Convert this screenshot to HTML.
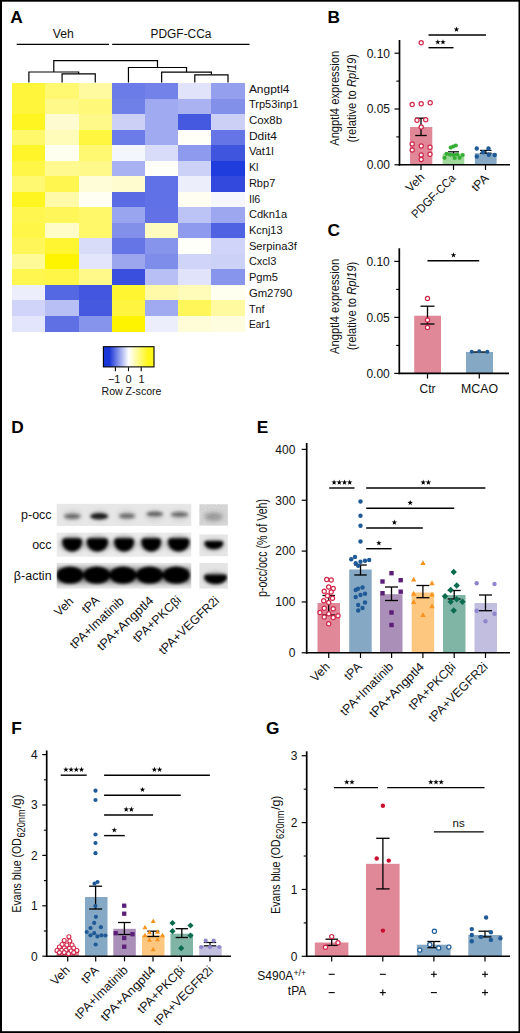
<!DOCTYPE html>
<html><head><meta charset="utf-8"><title>Figure</title>
<style>html,body{margin:0;padding:0;background:#fff}svg{display:block}text{font-family:"Liberation Sans", sans-serif}</style></head><body>
<svg width="520" height="1033" viewBox="0 0 520 1033">
<defs><filter id="b1" x="-20%" y="-50%" width="140%" height="200%"><feGaussianBlur stdDeviation="1.6"/></filter><filter id="b2" x="-20%" y="-50%" width="140%" height="200%"><feGaussianBlur stdDeviation="1.1"/></filter><filter id="b3" x="-20%" y="-50%" width="140%" height="200%"><feGaussianBlur stdDeviation="2.2"/></filter><filter id="b0" x="-5%" y="-5%" width="110%" height="110%"><feGaussianBlur stdDeviation="0.5"/></filter><linearGradient id="cb" x1="0" x2="1" y1="0" y2="0"><stop offset="0" stop-color="#1a35d8"/><stop offset="0.12" stop-color="#1a35d8"/><stop offset="0.5" stop-color="#ffffff"/><stop offset="0.88" stop-color="#fff61a"/><stop offset="1" stop-color="#fff61a"/></linearGradient></defs>
<rect x="0" y="0" width="520" height="1033" fill="#fff" />
<text x="10.2" y="23" font-size="17.3" text-anchor="start" font-weight="bold" fill="#000"  style="">A</text>
<text x="63.2" y="38" font-size="12.2" text-anchor="middle" font-weight="normal" fill="#111"  style="">Veh</text>
<text x="181" y="38" font-size="12" text-anchor="middle" font-weight="normal" fill="#111" textLength="61" lengthAdjust="spacingAndGlyphs"  style="">PDGF-CCa</text>
<line x1="16.7" y1="44.3" x2="109" y2="44.3" stroke="#000" stroke-width="1.2" stroke-linecap="butt"/>
<line x1="112.2" y1="44.3" x2="249.5" y2="44.3" stroke="#000" stroke-width="1.2" stroke-linecap="butt"/>
<g shape-rendering="crispEdges">
<rect x="12.3" y="83" width="33.49" height="15.81" fill="#fff53a" />
<rect x="45.49" y="83" width="33.49" height="15.81" fill="#fff870" />
<rect x="78.67" y="83" width="33.49" height="15.81" fill="#fffaa0" />
<rect x="111.86" y="83" width="33.49" height="15.81" fill="#6b7be8" />
<rect x="145.04" y="83" width="33.49" height="15.81" fill="#7382e8" />
<rect x="178.23" y="83" width="33.49" height="15.81" fill="#e0e3fa" />
<rect x="211.41" y="83" width="33.49" height="15.81" fill="#949fee" />
<rect x="12.3" y="98.51" width="33.49" height="15.81" fill="#fff53a" />
<rect x="45.49" y="98.51" width="33.49" height="15.81" fill="#fff98a" />
<rect x="78.67" y="98.51" width="33.49" height="15.81" fill="#fff878" />
<rect x="111.86" y="98.51" width="33.49" height="15.81" fill="#6f80e8" />
<rect x="145.04" y="98.51" width="33.49" height="15.81" fill="#a0aaf0" />
<rect x="178.23" y="98.51" width="33.49" height="15.81" fill="#aab2f2" />
<rect x="211.41" y="98.51" width="33.49" height="15.81" fill="#8390ea" />
<rect x="12.3" y="114.03" width="33.49" height="15.81" fill="#fff520" />
<rect x="45.49" y="114.03" width="33.49" height="15.81" fill="#fffbd0" />
<rect x="78.67" y="114.03" width="33.49" height="15.81" fill="#fff98a" />
<rect x="111.86" y="114.03" width="33.49" height="15.81" fill="#ccd0f7" />
<rect x="145.04" y="114.03" width="33.49" height="15.81" fill="#a0aaf0" />
<rect x="178.23" y="114.03" width="33.49" height="15.81" fill="#4458e0" />
<rect x="211.41" y="114.03" width="33.49" height="15.81" fill="#ccd0f7" />
<rect x="12.3" y="129.54" width="33.49" height="15.81" fill="#fff86a" />
<rect x="45.49" y="129.54" width="33.49" height="15.81" fill="#fffbb8" />
<rect x="78.67" y="129.54" width="33.49" height="15.81" fill="#fff640" />
<rect x="111.86" y="129.54" width="33.49" height="15.81" fill="#6b7be8" />
<rect x="145.04" y="129.54" width="33.49" height="15.81" fill="#a0aaf0" />
<rect x="178.23" y="129.54" width="33.49" height="15.81" fill="#fffff8" />
<rect x="211.41" y="129.54" width="33.49" height="15.81" fill="#6575e5" />
<rect x="12.3" y="145.05" width="33.49" height="15.81" fill="#fff528" />
<rect x="45.49" y="145.05" width="33.49" height="15.81" fill="#fffff0" />
<rect x="78.67" y="145.05" width="33.49" height="15.81" fill="#fff870" />
<rect x="111.86" y="145.05" width="33.49" height="15.81" fill="#f4f6fe" />
<rect x="145.04" y="145.05" width="33.49" height="15.81" fill="#d8dcf9" />
<rect x="178.23" y="145.05" width="33.49" height="15.81" fill="#8e9aee" />
<rect x="211.41" y="145.05" width="33.49" height="15.81" fill="#4055de" />
<rect x="12.3" y="160.56" width="33.49" height="15.81" fill="#fff648" />
<rect x="45.49" y="160.56" width="33.49" height="15.81" fill="#fff990" />
<rect x="78.67" y="160.56" width="33.49" height="15.81" fill="#fff98a" />
<rect x="111.86" y="160.56" width="33.49" height="15.81" fill="#a8b1f2" />
<rect x="145.04" y="160.56" width="33.49" height="15.81" fill="#fffffa" />
<rect x="178.23" y="160.56" width="33.49" height="15.81" fill="#ccd1f7" />
<rect x="211.41" y="160.56" width="33.49" height="15.81" fill="#1f3ddc" />
<rect x="12.3" y="176.07" width="33.49" height="15.81" fill="#fff870" />
<rect x="45.49" y="176.07" width="33.49" height="15.81" fill="#fff650" />
<rect x="78.67" y="176.07" width="33.49" height="15.81" fill="#fffcd8" />
<rect x="111.86" y="176.07" width="33.49" height="15.81" fill="#fffcd0" />
<rect x="145.04" y="176.07" width="33.49" height="15.81" fill="#6070e6" />
<rect x="178.23" y="176.07" width="33.49" height="15.81" fill="#eceefc" />
<rect x="211.41" y="176.07" width="33.49" height="15.81" fill="#3348dd" />
<rect x="12.3" y="191.59" width="33.49" height="15.81" fill="#fff520" />
<rect x="45.49" y="191.59" width="33.49" height="15.81" fill="#fffaa8" />
<rect x="78.67" y="191.59" width="33.49" height="15.81" fill="#fffff4" />
<rect x="111.86" y="191.59" width="33.49" height="15.81" fill="#5a6be4" />
<rect x="145.04" y="191.59" width="33.49" height="15.81" fill="#6070e6" />
<rect x="178.23" y="191.59" width="33.49" height="15.81" fill="#fffef0" />
<rect x="211.41" y="191.59" width="33.49" height="15.81" fill="#f6f7fe" />
<rect x="12.3" y="207.1" width="33.49" height="15.81" fill="#fff650" />
<rect x="45.49" y="207.1" width="33.49" height="15.81" fill="#fff75a" />
<rect x="78.67" y="207.1" width="33.49" height="15.81" fill="#fff868" />
<rect x="111.86" y="207.1" width="33.49" height="15.81" fill="#9aa5ef" />
<rect x="145.04" y="207.1" width="33.49" height="15.81" fill="#6272e6" />
<rect x="178.23" y="207.1" width="33.49" height="15.81" fill="#bcc3f5" />
<rect x="211.41" y="207.1" width="33.49" height="15.81" fill="#9ca7ef" />
<rect x="12.3" y="222.61" width="33.49" height="15.81" fill="#fff648" />
<rect x="45.49" y="222.61" width="33.49" height="15.81" fill="#fffcc8" />
<rect x="78.67" y="222.61" width="33.49" height="15.81" fill="#fff868" />
<rect x="111.86" y="222.61" width="33.49" height="15.81" fill="#8290ea" />
<rect x="145.04" y="222.61" width="33.49" height="15.81" fill="#fffcc0" />
<rect x="178.23" y="222.61" width="33.49" height="15.81" fill="#8e9aee" />
<rect x="211.41" y="222.61" width="33.49" height="15.81" fill="#4f62e2" />
<rect x="12.3" y="238.12" width="33.49" height="15.81" fill="#fff75a" />
<rect x="45.49" y="238.12" width="33.49" height="15.81" fill="#fff530" />
<rect x="78.67" y="238.12" width="33.49" height="15.81" fill="#d8dcf9" />
<rect x="111.86" y="238.12" width="33.49" height="15.81" fill="#6575e6" />
<rect x="145.04" y="238.12" width="33.49" height="15.81" fill="#8794eb" />
<rect x="178.23" y="238.12" width="33.49" height="15.81" fill="#fffffa" />
<rect x="211.41" y="238.12" width="33.49" height="15.81" fill="#d0d4f8" />
<rect x="12.3" y="253.64" width="33.49" height="15.81" fill="#fffa98" />
<rect x="45.49" y="253.64" width="33.49" height="15.81" fill="#fff400" />
<rect x="78.67" y="253.64" width="33.49" height="15.81" fill="#e2e5fb" />
<rect x="111.86" y="253.64" width="33.49" height="15.81" fill="#9ca6ef" />
<rect x="145.04" y="253.64" width="33.49" height="15.81" fill="#7f8dea" />
<rect x="178.23" y="253.64" width="33.49" height="15.81" fill="#d0d4f8" />
<rect x="211.41" y="253.64" width="33.49" height="15.81" fill="#ccd1f7" />
<rect x="12.3" y="269.15" width="33.49" height="15.81" fill="#fff650" />
<rect x="45.49" y="269.15" width="33.49" height="15.81" fill="#fff648" />
<rect x="78.67" y="269.15" width="33.49" height="15.81" fill="#fff98a" />
<rect x="111.86" y="269.15" width="33.49" height="15.81" fill="#3a4fde" />
<rect x="145.04" y="269.15" width="33.49" height="15.81" fill="#b8bff4" />
<rect x="178.23" y="269.15" width="33.49" height="15.81" fill="#e0e3fa" />
<rect x="211.41" y="269.15" width="33.49" height="15.81" fill="#8895ec" />
<rect x="12.3" y="284.66" width="33.49" height="15.81" fill="#eceefc" />
<rect x="45.49" y="284.66" width="33.49" height="15.81" fill="#5568e3" />
<rect x="78.67" y="284.66" width="33.49" height="15.81" fill="#4256df" />
<rect x="111.86" y="284.66" width="33.49" height="15.81" fill="#fff530" />
<rect x="145.04" y="284.66" width="33.49" height="15.81" fill="#fffaa8" />
<rect x="178.23" y="284.66" width="33.49" height="15.81" fill="#fffbb8" />
<rect x="211.41" y="284.66" width="33.49" height="15.81" fill="#fffff0" />
<rect x="12.3" y="300.17" width="33.49" height="15.81" fill="#d0d4f8" />
<rect x="45.49" y="300.17" width="33.49" height="15.81" fill="#b8bff4" />
<rect x="78.67" y="300.17" width="33.49" height="15.81" fill="#4558e0" />
<rect x="111.86" y="300.17" width="33.49" height="15.81" fill="#fff540" />
<rect x="145.04" y="300.17" width="33.49" height="15.81" fill="#a0aaf0" />
<rect x="178.23" y="300.17" width="33.49" height="15.81" fill="#fff75a" />
<rect x="211.41" y="300.17" width="33.49" height="15.81" fill="#fffaa0" />
<rect x="12.3" y="315.69" width="33.49" height="15.81" fill="#e2e5fb" />
<rect x="45.49" y="315.69" width="33.49" height="15.81" fill="#5f70e5" />
<rect x="78.67" y="315.69" width="33.49" height="15.81" fill="#8794eb" />
<rect x="111.86" y="315.69" width="33.49" height="15.81" fill="#fff400" />
<rect x="145.04" y="315.69" width="33.49" height="15.81" fill="#eceefc" />
<rect x="178.23" y="315.69" width="33.49" height="15.81" fill="#fffcd8" />
<rect x="211.41" y="315.69" width="33.49" height="15.81" fill="#fffde0" />
</g>
<text x="248.9" y="92.5" font-size="11.3" text-anchor="start" font-weight="normal" fill="#111" textLength="40.6" lengthAdjust="spacingAndGlyphs"  style="">Angptl4</text>
<text x="248.9" y="108.22" font-size="11.3" text-anchor="start" font-weight="normal" fill="#111" textLength="49.5" lengthAdjust="spacingAndGlyphs"  style="">Trp53inp1</text>
<text x="248.9" y="123.94" font-size="11.3" text-anchor="start" font-weight="normal" fill="#111" textLength="33.2" lengthAdjust="spacingAndGlyphs"  style="">Cox8b</text>
<text x="248.9" y="139.66" font-size="11.3" text-anchor="start" font-weight="normal" fill="#111" textLength="28" lengthAdjust="spacingAndGlyphs"  style="">Ddit4</text>
<text x="248.9" y="155.38" font-size="11.3" text-anchor="start" font-weight="normal" fill="#111" textLength="24.9" lengthAdjust="spacingAndGlyphs"  style="">Vat1l</text>
<text x="248.9" y="171.1" font-size="11.3" text-anchor="start" font-weight="normal" fill="#111" textLength="9.5" lengthAdjust="spacingAndGlyphs"  style="">Kl</text>
<text x="248.9" y="186.82" font-size="11.3" text-anchor="start" font-weight="normal" fill="#111" textLength="26.4" lengthAdjust="spacingAndGlyphs"  style="">Rbp7</text>
<text x="248.9" y="202.54" font-size="11.3" text-anchor="start" font-weight="normal" fill="#111" textLength="11.4" lengthAdjust="spacingAndGlyphs"  style="">Il6</text>
<text x="248.9" y="218.26" font-size="11.3" text-anchor="start" font-weight="normal" fill="#111" textLength="38.3" lengthAdjust="spacingAndGlyphs"  style="">Cdkn1a</text>
<text x="248.9" y="233.98" font-size="11.3" text-anchor="start" font-weight="normal" fill="#111" textLength="33.7" lengthAdjust="spacingAndGlyphs"  style="">Kcnj13</text>
<text x="248.9" y="249.7" font-size="11.3" text-anchor="start" font-weight="normal" fill="#111" textLength="48" lengthAdjust="spacingAndGlyphs"  style="">Serpina3f</text>
<text x="248.9" y="265.42" font-size="11.3" text-anchor="start" font-weight="normal" fill="#111" textLength="27.5" lengthAdjust="spacingAndGlyphs"  style="">Cxcl3</text>
<text x="248.9" y="281.14" font-size="11.3" text-anchor="start" font-weight="normal" fill="#111" textLength="29.1" lengthAdjust="spacingAndGlyphs"  style="">Pgm5</text>
<text x="248.9" y="296.86" font-size="11.3" text-anchor="start" font-weight="normal" fill="#111" textLength="43.4" lengthAdjust="spacingAndGlyphs"  style="">Gm2790</text>
<text x="248.9" y="312.58" font-size="11.3" text-anchor="start" font-weight="normal" fill="#111" textLength="15.7" lengthAdjust="spacingAndGlyphs"  style="">Tnf</text>
<text x="248.9" y="328.3" font-size="11.3" text-anchor="start" font-weight="normal" fill="#111" textLength="21.4" lengthAdjust="spacingAndGlyphs"  style="">Ear1</text>
<polyline points="62.08,82.6 62.08,73.8 95.26,73.8 95.26,82.6" fill="none" stroke="#000" stroke-width="1.2" stroke-linejoin="miter"/>
<polyline points="28.89,82.6 28.89,72 78.67,72 78.67,73.8" fill="none" stroke="#000" stroke-width="1.2" stroke-linejoin="miter"/>
<polyline points="194.82,82.6 194.82,74.8 228.01,74.8 228.01,82.6" fill="none" stroke="#000" stroke-width="1.2" stroke-linejoin="miter"/>
<polyline points="161.64,82.6 161.64,72.1 211.41,72.1 211.41,74.8" fill="none" stroke="#000" stroke-width="1.2" stroke-linejoin="miter"/>
<polyline points="128.45,82.6 128.45,67.5 186.53,67.5 186.53,72.1" fill="none" stroke="#000" stroke-width="1.2" stroke-linejoin="miter"/>
<polyline points="53.78,72 53.78,60.6 157.49,60.6 157.49,67.5" fill="none" stroke="#000" stroke-width="1.2" stroke-linejoin="miter"/>
<rect x="103.4" y="346.7" width="50.6" height="20.2" fill="url(#cb)" stroke="#000" stroke-width="1.1"/>
<line x1="115.4" y1="367.3" x2="115.4" y2="371.2" stroke="#000" stroke-width="1.1" stroke-linecap="butt"/>
<line x1="128.5" y1="367.3" x2="128.5" y2="371.2" stroke="#000" stroke-width="1.1" stroke-linecap="butt"/>
<line x1="141.2" y1="367.3" x2="141.2" y2="371.2" stroke="#000" stroke-width="1.1" stroke-linecap="butt"/>
<text x="114.2" y="382.8" font-size="11" text-anchor="middle" font-weight="normal" fill="#111"  style="">−1</text>
<text x="128.5" y="382.8" font-size="11" text-anchor="middle" font-weight="normal" fill="#111"  style="">0</text>
<text x="141.5" y="382.8" font-size="11" text-anchor="middle" font-weight="normal" fill="#111"  style="">1</text>
<text x="131.5" y="394.8" font-size="11" text-anchor="middle" font-weight="normal" fill="#111" textLength="60" lengthAdjust="spacingAndGlyphs"  style="">Row Z-score</text>
<text x="327.5" y="22.6" font-size="17.3" text-anchor="start" font-weight="bold" fill="#000"  style="">B</text>
<rect x="410" y="127" width="22.3" height="37.8" fill="#e08898" />
<rect x="442.7" y="153.8" width="21.6" height="11" fill="#a0d79b" />
<rect x="474.9" y="153.2" width="21.7" height="11.6" fill="#85a8c4" />
<line x1="399.5" y1="40" x2="399.5" y2="165.65" stroke="#000" stroke-width="1.7" stroke-linecap="butt"/>
<line x1="394.5" y1="164.8" x2="399.5" y2="164.8" stroke="#000" stroke-width="1.2" stroke-linecap="butt"/>
<line x1="394.5" y1="109" x2="399.5" y2="109" stroke="#000" stroke-width="1.2" stroke-linecap="butt"/>
<line x1="394.5" y1="53.2" x2="399.5" y2="53.2" stroke="#000" stroke-width="1.2" stroke-linecap="butt"/>
<line x1="396.3" y1="136.9" x2="399.5" y2="136.9" stroke="#000" stroke-width="1.1" stroke-linecap="butt"/>
<line x1="396.3" y1="81.1" x2="399.5" y2="81.1" stroke="#000" stroke-width="1.1" stroke-linecap="butt"/>
<text x="390" y="169.1" font-size="12" text-anchor="end" font-weight="normal" fill="#111"  style="">0.00</text>
<text x="390" y="113.3" font-size="12" text-anchor="end" font-weight="normal" fill="#111"  style="">0.05</text>
<text x="390" y="57.5" font-size="12" text-anchor="end" font-weight="normal" fill="#111"  style="">0.10</text>
<line x1="398.75" y1="164.8" x2="510" y2="164.8" stroke="#000" stroke-width="1.6" stroke-linecap="butt"/>
<line x1="421" y1="164.8" x2="421" y2="170" stroke="#000" stroke-width="1.2" stroke-linecap="butt"/>
<line x1="453.5" y1="164.8" x2="453.5" y2="170" stroke="#000" stroke-width="1.2" stroke-linecap="butt"/>
<line x1="485.5" y1="164.8" x2="485.5" y2="170" stroke="#000" stroke-width="1.2" stroke-linecap="butt"/>
<line x1="421" y1="118.2" x2="421" y2="135.5" stroke="#000" stroke-width="1.3" stroke-linecap="butt"/>
<line x1="415.25" y1="118.2" x2="426.75" y2="118.2" stroke="#000" stroke-width="1.3" stroke-linecap="butt"/>
<line x1="415.25" y1="135.5" x2="426.75" y2="135.5" stroke="#000" stroke-width="1.3" stroke-linecap="butt"/>
<line x1="453.5" y1="151.8" x2="453.5" y2="154.2" stroke="#000" stroke-width="1.2" stroke-linecap="butt"/>
<line x1="448" y1="151.8" x2="459" y2="151.8" stroke="#000" stroke-width="1.2" stroke-linecap="butt"/>
<line x1="448" y1="154.2" x2="459" y2="154.2" stroke="#000" stroke-width="1.2" stroke-linecap="butt"/>
<line x1="485.8" y1="150.4" x2="485.8" y2="153.2" stroke="#000" stroke-width="1.2" stroke-linecap="butt"/>
<line x1="480.05" y1="150.4" x2="491.55" y2="150.4" stroke="#000" stroke-width="1.2" stroke-linecap="butt"/>
<line x1="480.05" y1="153.2" x2="491.55" y2="153.2" stroke="#000" stroke-width="1.2" stroke-linecap="butt"/>
<circle cx="421.2" cy="42.7" r="2.1" fill="#fff" stroke="#d0284a" stroke-width="1.2"/>
<circle cx="412.2" cy="104.5" r="2.1" fill="#fff" stroke="#d0284a" stroke-width="1.2"/>
<circle cx="421.2" cy="103.7" r="2.1" fill="#fff" stroke="#d0284a" stroke-width="1.2"/>
<circle cx="430.2" cy="102.7" r="2.1" fill="#fff" stroke="#d0284a" stroke-width="1.2"/>
<circle cx="417" cy="120.2" r="2.1" fill="#fff" stroke="#d0284a" stroke-width="1.2"/>
<circle cx="425.7" cy="119.7" r="2.1" fill="#fff" stroke="#d0284a" stroke-width="1.2"/>
<circle cx="421.2" cy="127" r="2.1" fill="#fff" stroke="#d0284a" stroke-width="1.2"/>
<circle cx="412.2" cy="144" r="2.1" fill="#fff" stroke="#d0284a" stroke-width="1.2"/>
<circle cx="421.2" cy="146" r="2.1" fill="#fff" stroke="#d0284a" stroke-width="1.2"/>
<circle cx="430" cy="147.2" r="2.1" fill="#fff" stroke="#d0284a" stroke-width="1.2"/>
<circle cx="412.2" cy="150" r="2.1" fill="#fff" stroke="#d0284a" stroke-width="1.2"/>
<circle cx="421.2" cy="155" r="2.1" fill="#fff" stroke="#d0284a" stroke-width="1.2"/>
<circle cx="430" cy="154.2" r="2.1" fill="#fff" stroke="#d0284a" stroke-width="1.2"/>
<circle cx="421.2" cy="159.5" r="2.1" fill="#fff" stroke="#d0284a" stroke-width="1.2"/>
<circle cx="455.8" cy="145.5" r="2.1" fill="#34af34"/>
<circle cx="453.2" cy="146.5" r="2.1" fill="#34af34"/>
<circle cx="450.7" cy="147.6" r="2.1" fill="#34af34"/>
<circle cx="446.5" cy="153.8" r="2.1" fill="#34af34"/>
<circle cx="450" cy="154.7" r="2.1" fill="#34af34"/>
<circle cx="444.5" cy="157.8" r="2.1" fill="#34af34"/>
<circle cx="454.7" cy="158" r="2.1" fill="#34af34"/>
<circle cx="459.6" cy="157.8" r="2.1" fill="#34af34"/>
<circle cx="462.7" cy="155" r="2.1" fill="#34af34"/>
<circle cx="457.3" cy="154.5" r="2.1" fill="#34af34"/>
<circle cx="453.5" cy="155" r="2.1" fill="#34af34"/>
<circle cx="476.8" cy="148.5" r="2.2" fill="#1f5a96"/>
<circle cx="488.5" cy="148.5" r="2.2" fill="#1f5a96"/>
<circle cx="483" cy="152.2" r="2.2" fill="#1f5a96"/>
<circle cx="488.8" cy="154.7" r="2.2" fill="#1f5a96"/>
<circle cx="494.7" cy="155" r="2.2" fill="#1f5a96"/>
<circle cx="476.8" cy="156.5" r="2.2" fill="#1f5a96"/>
<line x1="428.5" y1="35" x2="486" y2="35" stroke="#000" stroke-width="1.4" stroke-linecap="butt"/>
<line x1="428.5" y1="47.7" x2="453.5" y2="47.7" stroke="#000" stroke-width="1.4" stroke-linecap="butt"/>
<polygon points="456.5,26.6 457.18,28.57 459.26,28.6 457.59,29.86 458.2,31.85 456.5,30.65 454.8,31.85 455.41,29.86 453.74,28.6 455.82,28.57" fill="#000"/>
<polygon points="437.8,39.3 438.48,41.27 440.56,41.3 438.89,42.56 439.5,44.55 437.8,43.35 436.1,44.55 436.71,42.56 435.04,41.3 437.12,41.27" fill="#000"/>
<polygon points="443,39.3 443.68,41.27 445.76,41.3 444.09,42.56 444.7,44.55 443,43.35 441.3,44.55 441.91,42.56 440.24,41.3 442.32,41.27" fill="#000"/>
<text x="0" y="0" transform="translate(339,98.3) rotate(-90)" font-size="13.3" text-anchor="middle" font-weight="normal" fill="#111" textLength="95" lengthAdjust="spacingAndGlyphs"  style="">Angptl4 expression</text>
<text x="0" y="0" transform="translate(356.2,98.3) rotate(-90)" font-size="13.3" text-anchor="middle" font-weight="normal" fill="#111" textLength="88.5" lengthAdjust="spacingAndGlyphs"  style="">(relative to <tspan font-style="italic">Rpl19</tspan>)</text>
<text x="0" y="0" transform="translate(425.2,178) rotate(-45)" font-size="12" text-anchor="end" font-weight="normal" fill="#111"  style="">Veh</text>
<text x="0" y="0" transform="translate(456.3,179) rotate(-45)" font-size="12" text-anchor="end" font-weight="normal" fill="#111" textLength="56.5" lengthAdjust="spacingAndGlyphs"  style="">PDGF-CCa</text>
<text x="0" y="0" transform="translate(489.3,179) rotate(-45)" font-size="12" text-anchor="end" font-weight="normal" fill="#111"  style="">tPA</text>
<text x="327.5" y="236.4" font-size="17.3" text-anchor="start" font-weight="bold" fill="#000"  style="">C</text>
<rect x="414.2" y="315.7" width="26.8" height="57.7" fill="#e08898" />
<rect x="466" y="352" width="27" height="21.4" fill="#85a8c4" />
<line x1="399.3" y1="248.3" x2="399.3" y2="374.25" stroke="#000" stroke-width="1.7" stroke-linecap="butt"/>
<line x1="394.3" y1="373.4" x2="399.3" y2="373.4" stroke="#000" stroke-width="1.2" stroke-linecap="butt"/>
<line x1="394.3" y1="317.4" x2="399.3" y2="317.4" stroke="#000" stroke-width="1.2" stroke-linecap="butt"/>
<line x1="394.3" y1="261.4" x2="399.3" y2="261.4" stroke="#000" stroke-width="1.2" stroke-linecap="butt"/>
<line x1="396.1" y1="345.4" x2="399.3" y2="345.4" stroke="#000" stroke-width="1.1" stroke-linecap="butt"/>
<line x1="396.1" y1="289.4" x2="399.3" y2="289.4" stroke="#000" stroke-width="1.1" stroke-linecap="butt"/>
<text x="389.8" y="377.7" font-size="12" text-anchor="end" font-weight="normal" fill="#111"  style="">0.00</text>
<text x="389.8" y="321.7" font-size="12" text-anchor="end" font-weight="normal" fill="#111"  style="">0.05</text>
<text x="389.8" y="265.7" font-size="12" text-anchor="end" font-weight="normal" fill="#111"  style="">0.10</text>
<line x1="398.55" y1="373.4" x2="509" y2="373.4" stroke="#000" stroke-width="1.6" stroke-linecap="butt"/>
<line x1="427.5" y1="373.4" x2="427.5" y2="378.6" stroke="#000" stroke-width="1.2" stroke-linecap="butt"/>
<line x1="479.3" y1="373.4" x2="479.3" y2="378.6" stroke="#000" stroke-width="1.2" stroke-linecap="butt"/>
<line x1="427.5" y1="306.2" x2="427.5" y2="324" stroke="#000" stroke-width="1.3" stroke-linecap="butt"/>
<line x1="420.5" y1="306.2" x2="434.5" y2="306.2" stroke="#000" stroke-width="1.3" stroke-linecap="butt"/>
<line x1="420.5" y1="324" x2="434.5" y2="324" stroke="#000" stroke-width="1.3" stroke-linecap="butt"/>
<line x1="472" y1="352" x2="487.3" y2="352" stroke="#000" stroke-width="1.3" stroke-linecap="butt"/>
<circle cx="427.5" cy="298.5" r="2.1" fill="#fff" stroke="#d0284a" stroke-width="1.2"/>
<circle cx="427.5" cy="320" r="2.1" fill="#fff" stroke="#d0284a" stroke-width="1.2"/>
<circle cx="427.5" cy="327.5" r="2.1" fill="#fff" stroke="#d0284a" stroke-width="1.2"/>
<circle cx="471.7" cy="351.7" r="2" fill="#1f5a96"/>
<circle cx="479.2" cy="351.2" r="2" fill="#1f5a96"/>
<circle cx="487.4" cy="351.7" r="2" fill="#1f5a96"/>
<line x1="427.5" y1="260.7" x2="479.2" y2="260.7" stroke="#000" stroke-width="1.4" stroke-linecap="butt"/>
<polygon points="453.5,252.3 454.18,254.27 456.26,254.3 454.59,255.56 455.2,257.55 453.5,256.35 451.8,257.55 452.41,255.56 450.74,254.3 452.82,254.27" fill="#000"/>
<text x="0" y="0" transform="translate(339,306.4) rotate(-90)" font-size="13.3" text-anchor="middle" font-weight="normal" fill="#111" textLength="95" lengthAdjust="spacingAndGlyphs"  style="">Angptl4 expression</text>
<text x="0" y="0" transform="translate(356.2,306) rotate(-90)" font-size="13.3" text-anchor="middle" font-weight="normal" fill="#111" textLength="88.5" lengthAdjust="spacingAndGlyphs"  style="">(relative to <tspan font-style="italic">Rpl19</tspan>)</text>
<text x="427.5" y="393" font-size="12" text-anchor="middle" font-weight="normal" fill="#111"  style="">Ctr</text>
<text x="479.6" y="393" font-size="12" text-anchor="middle" font-weight="normal" fill="#111" textLength="37" lengthAdjust="spacingAndGlyphs"  style="">MCAO</text>
<text x="11.3" y="433.3" font-size="17.3" text-anchor="start" font-weight="bold" fill="#000"  style="">D</text>
<text x="51.6" y="519" font-size="12.5" text-anchor="end" font-weight="normal" fill="#111"  style="">p-occ</text>
<text x="51.6" y="548.6" font-size="12.5" text-anchor="end" font-weight="normal" fill="#111"  style="">occ</text>
<text x="51.6" y="580" font-size="12.5" text-anchor="end" font-weight="normal" fill="#111"  style="">β-actin</text>
<filter id="nz" x="0" y="0" width="100%" height="100%"><feTurbulence type="fractalNoise" baseFrequency="0.55" numOctaves="2" seed="7" result="n"/><feColorMatrix in="n" type="matrix" values="0 0 0 0 0.5  0 0 0 0 0.5  0 0 0 0 0.5  0.9 0.9 0.9 0 -0.95"/></filter>
<g filter="url(#b0)">
<rect x="56.7" y="503.8" width="134.6" height="22.2" fill="#e7e7e7" />
<rect x="199.4" y="504.3" width="28.4" height="21.3" fill="#dcdcdc" />
<rect x="56.7" y="532.6" width="134.6" height="24.2" fill="#ebebeb" />
<rect x="199.4" y="534.4" width="28.4" height="21.8" fill="#e6e6e6" />
<rect x="56.7" y="562.8" width="134.6" height="25.8" fill="#e6e6e6" />
<rect x="199.4" y="563" width="28.4" height="25.6" fill="#e4e4e4" />
</g>
<clipPath id="cl1"><rect x="56.7" y="503.8" width="134.6" height="22.2"/></clipPath>
<clipPath id="cl2"><rect x="199.4" y="504.3" width="28.4" height="21.3"/></clipPath>
<clipPath id="cl3"><rect x="56.7" y="532.6" width="134.6" height="24.2"/></clipPath>
<clipPath id="cl4"><rect x="199.4" y="534.4" width="28.4" height="21.8"/></clipPath>
<clipPath id="cl5"><rect x="56.7" y="562.8" width="134.6" height="25.8"/></clipPath>
<clipPath id="cl6"><rect x="199.4" y="563" width="28.4" height="25.6"/></clipPath>
<g clip-path="url(#cl1)">
<g filter="url(#b3)">
<ellipse cx="72.5" cy="515.5" rx="10" ry="6" fill="#888" opacity="0.22"/>
<ellipse cx="99.3" cy="515.5" rx="10" ry="6" fill="#888" opacity="0.22"/>
<ellipse cx="127" cy="515.5" rx="10" ry="6" fill="#888" opacity="0.22"/>
<ellipse cx="154.5" cy="515.5" rx="10" ry="6" fill="#888" opacity="0.22"/>
<ellipse cx="179.5" cy="515.5" rx="10" ry="6" fill="#888" opacity="0.22"/>
</g><g filter="url(#b1)">
<ellipse cx="72.3" cy="516.3" rx="8.2" ry="2.6" fill="#1a1a1a" opacity="0.55"/>
<ellipse cx="99.2" cy="516.3" rx="9" ry="3.2" fill="#1a1a1a" opacity="1"/>
<ellipse cx="127" cy="516" rx="8" ry="2.6" fill="#1a1a1a" opacity="0.55"/>
<ellipse cx="154.8" cy="514" rx="8.2" ry="2.6" fill="#1a1a1a" opacity="0.62"/>
<ellipse cx="179.6" cy="514.6" rx="8.6" ry="2.5" fill="#1a1a1a" opacity="0.55"/>
</g></g>
<g clip-path="url(#cl2)"><g filter="url(#b3)">
<ellipse cx="213.6" cy="516.8" rx="9.5" ry="4.2" fill="#444" opacity="0.5"/>
</g>
<rect x="199.4" y="504.3" width="28.4" height="21.3" filter="url(#nz)" opacity="0.55"/>
</g>
<g clip-path="url(#cl3)"><g filter="url(#b3)">
<ellipse cx="72.15" cy="544" rx="12.35" ry="8.5" fill="#666" opacity="0.45"/>
<ellipse cx="97.4" cy="544" rx="13.1" ry="8.5" fill="#666" opacity="0.45"/>
<ellipse cx="124.1" cy="544" rx="12.4" ry="8.5" fill="#666" opacity="0.45"/>
<ellipse cx="151.2" cy="544" rx="12.3" ry="8.5" fill="#666" opacity="0.45"/>
<ellipse cx="178.7" cy="544" rx="13.2" ry="8.5" fill="#666" opacity="0.45"/>
</g><g filter="url(#b1)">
<path d="M62.3,541.5 C62.3,538.86 63.48,538.2 65.85,538.2 L78.45,538.2 C80.82,538.2 82,538.86 82,541.5 C82,547.44 77.67,551.4 72.15,551.4 C66.63,551.4 62.3,547.44 62.3,541.5 Z" fill="#000" opacity="1"/>
<path d="M86.8,541.5 C86.8,538.86 88.07,538.2 90.62,538.2 L104.18,538.2 C106.73,538.2 108,538.86 108,541.5 C108,547.44 103.34,551.4 97.4,551.4 C91.46,551.4 86.8,547.44 86.8,541.5 Z" fill="#000" opacity="1"/>
<path d="M114.2,541.5 C114.2,538.86 115.39,538.2 117.76,538.2 L130.44,538.2 C132.81,538.2 134,538.86 134,541.5 C134,547.44 129.64,551.4 124.1,551.4 C118.56,551.4 114.2,547.44 114.2,541.5 Z" fill="#000" opacity="1"/>
<path d="M141.4,541.5 C141.4,538.86 142.58,538.2 144.93,538.2 L157.47,538.2 C159.82,538.2 161,538.86 161,541.5 C161,547.44 156.69,551.4 151.2,551.4 C145.71,551.4 141.4,547.44 141.4,541.5 Z" fill="#000" opacity="1"/>
<path d="M168,541.5 C168,538.86 169.28,538.2 171.85,538.2 L185.55,538.2 C188.12,538.2 189.4,538.86 189.4,541.5 C189.4,547.44 184.69,551.4 178.7,551.4 C172.71,551.4 168,547.44 168,541.5 Z" fill="#000" opacity="1"/>
</g></g>
<g clip-path="url(#cl4)"><g filter="url(#b3)">
<ellipse cx="213.8" cy="545" rx="11" ry="6" fill="#666" opacity="0.4"/>
</g><g filter="url(#b1)">
<path d="M204.5,543.05 C204.5,541.41 205.62,541 207.87,541 L219.83,541 C222.08,541 223.2,541.41 223.2,543.05 C223.2,546.74 219.09,549.2 213.85,549.2 C208.61,549.2 204.5,546.74 204.5,543.05 Z" fill="#000" opacity="1"/>
</g></g>
<g clip-path="url(#cl5)"><g filter="url(#b3)">
<rect x="56" y="567" width="135" height="17" fill="#555" opacity="0.55"/>
</g><g filter="url(#b1)">
<ellipse cx="70" cy="575.2" rx="13.6" ry="8.6" fill="#000" opacity="1"/>
<ellipse cx="96.8" cy="575.2" rx="13.6" ry="8.6" fill="#000" opacity="1"/>
<ellipse cx="123" cy="575.2" rx="13.6" ry="8.6" fill="#000" opacity="1"/>
<ellipse cx="149.6" cy="575.2" rx="13.6" ry="8.6" fill="#000" opacity="1"/>
<ellipse cx="176.3" cy="575.2" rx="13.6" ry="8.6" fill="#000" opacity="1"/>
</g></g>
<g clip-path="url(#cl6)"><g filter="url(#b3)">
<ellipse cx="215.5" cy="578" rx="12" ry="6.5" fill="#666" opacity="0.45"/>
</g><g filter="url(#b1)">
<path d="M204.2,576.95 C204.2,575.07 205.57,574.6 208.3,574.6 L222.9,574.6 C225.63,574.6 227,575.07 227,576.95 C227,581.18 221.98,584 215.6,584 C209.22,584 204.2,581.18 204.2,576.95 Z" fill="#000" opacity="1"/>
</g></g>
<text x="0" y="0" transform="translate(74.3,602.4) rotate(-43.5)" font-size="12.3" text-anchor="end" font-weight="normal" fill="#111"  style="">Veh</text>
<text x="0" y="0" transform="translate(100.2,601) rotate(-43.5)" font-size="12.3" text-anchor="end" font-weight="normal" fill="#111"  style="">tPA</text>
<text x="0" y="0" transform="translate(124.6,602) rotate(-43.5)" font-size="12.3" text-anchor="end" font-weight="normal" fill="#111"  style="">tPA+Imatinib</text>
<text x="0" y="0" transform="translate(154.2,601.5) rotate(-43.5)" font-size="12.3" text-anchor="end" font-weight="normal" fill="#111" textLength="72.3" lengthAdjust="spacingAndGlyphs"  style="">tPA+Angptl4</text>
<text x="0" y="0" transform="translate(182,601) rotate(-43.5)" font-size="12.3" text-anchor="end" font-weight="normal" fill="#111"  style="">tPA+PKCβi</text>
<text x="0" y="0" transform="translate(220,601.5) rotate(-43.5)" font-size="12.3" text-anchor="end" font-weight="normal" fill="#111" textLength="78" lengthAdjust="spacingAndGlyphs"  style="">tPA+VEGFR2i</text>
<text x="256.8" y="433.3" font-size="17.3" text-anchor="start" font-weight="bold" fill="#000"  style="">E</text>
<rect x="317.5" y="603" width="22.5" height="49.8" fill="#e08898" />
<rect x="349.2" y="569.5" width="22.5" height="83.3" fill="#85a8c4" />
<rect x="380" y="594.2" width="22.5" height="58.6" fill="#aa8fb8" />
<rect x="411.7" y="592.5" width="22.5" height="60.3" fill="#fdc780" />
<rect x="443" y="595" width="22.5" height="57.8" fill="#80b4a5" />
<rect x="474.5" y="603" width="22.5" height="49.8" fill="#c2bee0" />
<line x1="306.7" y1="443" x2="306.7" y2="653.65" stroke="#000" stroke-width="1.7" stroke-linecap="butt"/>
<line x1="301.7" y1="652.8" x2="306.7" y2="652.8" stroke="#000" stroke-width="1.2" stroke-linecap="butt"/>
<line x1="301.7" y1="601.95" x2="306.7" y2="601.95" stroke="#000" stroke-width="1.2" stroke-linecap="butt"/>
<line x1="301.7" y1="551.1" x2="306.7" y2="551.1" stroke="#000" stroke-width="1.2" stroke-linecap="butt"/>
<line x1="301.7" y1="500.25" x2="306.7" y2="500.25" stroke="#000" stroke-width="1.2" stroke-linecap="butt"/>
<line x1="301.7" y1="449.4" x2="306.7" y2="449.4" stroke="#000" stroke-width="1.2" stroke-linecap="butt"/>
<text x="295.4" y="657.1" font-size="12" text-anchor="end" font-weight="normal" fill="#111"  style="">0</text>
<text x="295.4" y="606.25" font-size="12" text-anchor="end" font-weight="normal" fill="#111"  style="">100</text>
<text x="295.4" y="555.4" font-size="12" text-anchor="end" font-weight="normal" fill="#111"  style="">200</text>
<text x="295.4" y="504.55" font-size="12" text-anchor="end" font-weight="normal" fill="#111"  style="">300</text>
<text x="295.4" y="453.7" font-size="12" text-anchor="end" font-weight="normal" fill="#111"  style="">400</text>
<line x1="305.95" y1="652.8" x2="510" y2="652.8" stroke="#000" stroke-width="1.6" stroke-linecap="butt"/>
<line x1="328.7" y1="652.8" x2="328.7" y2="658" stroke="#000" stroke-width="1.2" stroke-linecap="butt"/>
<line x1="360.5" y1="652.8" x2="360.5" y2="658" stroke="#000" stroke-width="1.2" stroke-linecap="butt"/>
<line x1="391.6" y1="652.8" x2="391.6" y2="658" stroke="#000" stroke-width="1.2" stroke-linecap="butt"/>
<line x1="422.9" y1="652.8" x2="422.9" y2="658" stroke="#000" stroke-width="1.2" stroke-linecap="butt"/>
<line x1="454.2" y1="652.8" x2="454.2" y2="658" stroke="#000" stroke-width="1.2" stroke-linecap="butt"/>
<line x1="485.5" y1="652.8" x2="485.5" y2="658" stroke="#000" stroke-width="1.2" stroke-linecap="butt"/>
<line x1="328.7" y1="595.5" x2="328.7" y2="615" stroke="#000" stroke-width="1.3" stroke-linecap="butt"/>
<line x1="322.45" y1="595.5" x2="334.95" y2="595.5" stroke="#000" stroke-width="1.3" stroke-linecap="butt"/>
<line x1="322.45" y1="615" x2="334.95" y2="615" stroke="#000" stroke-width="1.3" stroke-linecap="butt"/>
<line x1="360.5" y1="565" x2="360.5" y2="575" stroke="#000" stroke-width="1.3" stroke-linecap="butt"/>
<line x1="354.25" y1="565" x2="366.75" y2="565" stroke="#000" stroke-width="1.3" stroke-linecap="butt"/>
<line x1="354.25" y1="575" x2="366.75" y2="575" stroke="#000" stroke-width="1.3" stroke-linecap="butt"/>
<line x1="391.5" y1="587" x2="391.5" y2="600.5" stroke="#000" stroke-width="1.3" stroke-linecap="butt"/>
<line x1="385" y1="587" x2="398" y2="587" stroke="#000" stroke-width="1.3" stroke-linecap="butt"/>
<line x1="385" y1="600.5" x2="398" y2="600.5" stroke="#000" stroke-width="1.3" stroke-linecap="butt"/>
<line x1="422.9" y1="585.5" x2="422.9" y2="597.7" stroke="#000" stroke-width="1.3" stroke-linecap="butt"/>
<line x1="416.4" y1="585.5" x2="429.4" y2="585.5" stroke="#000" stroke-width="1.3" stroke-linecap="butt"/>
<line x1="416.4" y1="597.7" x2="429.4" y2="597.7" stroke="#000" stroke-width="1.3" stroke-linecap="butt"/>
<line x1="454.2" y1="590.5" x2="454.2" y2="599" stroke="#000" stroke-width="1.3" stroke-linecap="butt"/>
<line x1="447.7" y1="590.5" x2="460.7" y2="590.5" stroke="#000" stroke-width="1.3" stroke-linecap="butt"/>
<line x1="447.7" y1="599" x2="460.7" y2="599" stroke="#000" stroke-width="1.3" stroke-linecap="butt"/>
<line x1="485.5" y1="595" x2="485.5" y2="610.7" stroke="#000" stroke-width="1.3" stroke-linecap="butt"/>
<line x1="479" y1="595" x2="492" y2="595" stroke="#000" stroke-width="1.3" stroke-linecap="butt"/>
<line x1="479" y1="610.7" x2="492" y2="610.7" stroke="#000" stroke-width="1.3" stroke-linecap="butt"/>
<circle cx="326.7" cy="579.5" r="2.1" fill="#fff" stroke="#d0284a" stroke-width="1.2"/>
<circle cx="331.2" cy="580" r="2.1" fill="#fff" stroke="#d0284a" stroke-width="1.2"/>
<circle cx="328.7" cy="587" r="2.1" fill="#fff" stroke="#d0284a" stroke-width="1.2"/>
<circle cx="333.2" cy="588.5" r="2.1" fill="#fff" stroke="#d0284a" stroke-width="1.2"/>
<circle cx="324.2" cy="591.2" r="2.1" fill="#fff" stroke="#d0284a" stroke-width="1.2"/>
<circle cx="331.2" cy="592" r="2.1" fill="#fff" stroke="#d0284a" stroke-width="1.2"/>
<circle cx="327.5" cy="595.7" r="2.1" fill="#fff" stroke="#d0284a" stroke-width="1.2"/>
<circle cx="323.7" cy="600.7" r="2.1" fill="#fff" stroke="#d0284a" stroke-width="1.2"/>
<circle cx="332.5" cy="598.2" r="2.1" fill="#fff" stroke="#d0284a" stroke-width="1.2"/>
<circle cx="328.7" cy="602.5" r="2.1" fill="#fff" stroke="#d0284a" stroke-width="1.2"/>
<circle cx="324.2" cy="608.2" r="2.1" fill="#fff" stroke="#d0284a" stroke-width="1.2"/>
<circle cx="333.2" cy="608.7" r="2.1" fill="#fff" stroke="#d0284a" stroke-width="1.2"/>
<circle cx="320" cy="612.5" r="2.1" fill="#fff" stroke="#d0284a" stroke-width="1.2"/>
<circle cx="328.7" cy="613.7" r="2.1" fill="#fff" stroke="#d0284a" stroke-width="1.2"/>
<circle cx="338" cy="615.7" r="2.1" fill="#fff" stroke="#d0284a" stroke-width="1.2"/>
<circle cx="324.2" cy="617" r="2.1" fill="#fff" stroke="#d0284a" stroke-width="1.2"/>
<circle cx="333.2" cy="617.5" r="2.1" fill="#fff" stroke="#d0284a" stroke-width="1.2"/>
<circle cx="328.7" cy="623.7" r="2.1" fill="#fff" stroke="#d0284a" stroke-width="1.2"/>
<circle cx="360.5" cy="501.5" r="2.2" fill="#1f5a96"/>
<circle cx="360.5" cy="515.7" r="2.2" fill="#1f5a96"/>
<circle cx="360.5" cy="525.7" r="2.2" fill="#1f5a96"/>
<circle cx="360.5" cy="541.5" r="2.2" fill="#1f5a96"/>
<circle cx="351.2" cy="559.2" r="2.2" fill="#1f5a96"/>
<circle cx="355" cy="557" r="2.2" fill="#1f5a96"/>
<circle cx="369.2" cy="560" r="2.2" fill="#1f5a96"/>
<circle cx="365" cy="560.7" r="2.2" fill="#1f5a96"/>
<circle cx="360.5" cy="561.7" r="2.2" fill="#1f5a96"/>
<circle cx="355.7" cy="563.2" r="2.2" fill="#1f5a96"/>
<circle cx="358.2" cy="565.7" r="2.2" fill="#1f5a96"/>
<circle cx="362.5" cy="587.5" r="2.2" fill="#1f5a96"/>
<circle cx="358" cy="588.7" r="2.2" fill="#1f5a96"/>
<circle cx="355.7" cy="590" r="2.2" fill="#1f5a96"/>
<circle cx="365" cy="593.7" r="2.2" fill="#1f5a96"/>
<circle cx="360.5" cy="595" r="2.2" fill="#1f5a96"/>
<circle cx="355.7" cy="597" r="2.2" fill="#1f5a96"/>
<circle cx="365" cy="602.5" r="2.2" fill="#1f5a96"/>
<circle cx="358.2" cy="605" r="2.2" fill="#1f5a96"/>
<circle cx="362.5" cy="608" r="2.2" fill="#1f5a96"/>
<circle cx="358.2" cy="610.5" r="2.2" fill="#1f5a96"/>
<rect x="389.3" y="571" width="4.4" height="4.4" fill="#5c1f78" />
<rect x="380.3" y="579.3" width="4.4" height="4.4" fill="#5c1f78" />
<rect x="398.5" y="578" width="4.4" height="4.4" fill="#5c1f78" />
<rect x="380.3" y="591" width="4.4" height="4.4" fill="#5c1f78" />
<rect x="398.5" y="589.5" width="4.4" height="4.4" fill="#5c1f78" />
<rect x="389.3" y="610.3" width="4.4" height="4.4" fill="#5c1f78" />
<rect x="389.3" y="622.8" width="4.4" height="4.4" fill="#5c1f78" />
<polygon points="423,560.15 420.33,564.93 425.67,564.93" fill="#f7931e"/>
<polygon points="413.7,576.65 411.03,581.43 416.37,581.43" fill="#f7931e"/>
<polygon points="432,580.35 429.33,585.13 434.67,585.13" fill="#f7931e"/>
<polygon points="413.7,590.85 411.03,595.63 416.37,595.63" fill="#f7931e"/>
<polygon points="432,591.65 429.33,596.43 434.67,596.43" fill="#f7931e"/>
<polygon points="413.7,599.15 411.03,603.93 416.37,603.93" fill="#f7931e"/>
<polygon points="432,603.35 429.33,608.13 434.67,608.13" fill="#f7931e"/>
<polygon points="423,612.15 420.33,616.93 425.67,616.93" fill="#f7931e"/>
<polygon points="453.7,568.8 456.9,572 453.7,575.2 450.5,572" fill="#0b6b4f"/>
<polygon points="456.7,582.3 459.9,585.5 456.7,588.7 453.5,585.5" fill="#0b6b4f"/>
<polygon points="450.7,586.8 453.9,590 450.7,593.2 447.5,590" fill="#0b6b4f"/>
<polygon points="445,593 448.2,596.2 445,599.4 441.8,596.2" fill="#0b6b4f"/>
<polygon points="456.7,596 459.9,599.2 456.7,602.4 453.5,599.2" fill="#0b6b4f"/>
<polygon points="450.7,598.5 453.9,601.7 450.7,604.9 447.5,601.7" fill="#0b6b4f"/>
<polygon points="462.5,598.5 465.7,601.7 462.5,604.9 459.3,601.7" fill="#0b6b4f"/>
<polygon points="453.7,607.3 456.9,610.5 453.7,613.7 450.5,610.5" fill="#0b6b4f"/>
<circle cx="476.7" cy="583.2" r="2.2" fill="#8d86cb"/>
<circle cx="494.5" cy="584" r="2.2" fill="#8d86cb"/>
<circle cx="476.7" cy="610.7" r="2.2" fill="#8d86cb"/>
<circle cx="494.5" cy="613.7" r="2.2" fill="#8d86cb"/>
<circle cx="485.5" cy="621.2" r="2.2" fill="#8d86cb"/>
<line x1="329.2" y1="488" x2="354.5" y2="488" stroke="#000" stroke-width="1.4" stroke-linecap="butt"/>
<polygon points="334.1,479.6 334.78,481.57 336.86,481.6 335.19,482.86 335.8,484.85 334.1,483.65 332.4,484.85 333.01,482.86 331.34,481.6 333.42,481.57" fill="#000"/>
<polygon points="339.3,479.6 339.98,481.57 342.06,481.6 340.39,482.86 341,484.85 339.3,483.65 337.6,484.85 338.21,482.86 336.54,481.6 338.62,481.57" fill="#000"/>
<polygon points="344.5,479.6 345.18,481.57 347.26,481.6 345.59,482.86 346.2,484.85 344.5,483.65 342.8,484.85 343.41,482.86 341.74,481.6 343.82,481.57" fill="#000"/>
<polygon points="349.7,479.6 350.38,481.57 352.46,481.6 350.79,482.86 351.4,484.85 349.7,483.65 348,484.85 348.61,482.86 346.94,481.6 349.02,481.57" fill="#000"/>
<line x1="366.2" y1="488" x2="485.4" y2="488" stroke="#000" stroke-width="1.4" stroke-linecap="butt"/>
<polygon points="423.2,479.6 423.88,481.57 425.96,481.6 424.29,482.86 424.9,484.85 423.2,483.65 421.5,484.85 422.11,482.86 420.44,481.6 422.52,481.57" fill="#000"/>
<polygon points="428.4,479.6 429.08,481.57 431.16,481.6 429.49,482.86 430.1,484.85 428.4,483.65 426.7,484.85 427.31,482.86 425.64,481.6 427.72,481.57" fill="#000"/>
<line x1="366.2" y1="508.3" x2="454.2" y2="508.3" stroke="#000" stroke-width="1.4" stroke-linecap="butt"/>
<polygon points="410.2,499.9 410.88,501.87 412.96,501.9 411.29,503.16 411.9,505.15 410.2,503.95 408.5,505.15 409.11,503.16 407.44,501.9 409.52,501.87" fill="#000"/>
<line x1="366.2" y1="528" x2="422.8" y2="528" stroke="#000" stroke-width="1.4" stroke-linecap="butt"/>
<polygon points="394.4,519.6 395.08,521.57 397.16,521.6 395.49,522.86 396.1,524.85 394.4,523.65 392.7,524.85 393.31,522.86 391.64,521.6 393.72,521.57" fill="#000"/>
<line x1="366.2" y1="548.7" x2="391.6" y2="548.7" stroke="#000" stroke-width="1.4" stroke-linecap="butt"/>
<polygon points="378.9,540.3 379.58,542.27 381.66,542.3 379.99,543.56 380.6,545.55 378.9,544.35 377.2,545.55 377.81,543.56 376.14,542.3 378.22,542.27" fill="#000"/>
<text x="0" y="0" transform="translate(266.7,548) rotate(-90)" font-size="13.8" text-anchor="middle" font-weight="normal" fill="#111" textLength="98" lengthAdjust="spacingAndGlyphs"  style="">p-occ/occ (% of Veh)</text>
<text x="0" y="0" transform="translate(330.5,667.5) rotate(-45)" font-size="12.3" text-anchor="end" font-weight="normal" fill="#111"  style="">Veh</text>
<text x="0" y="0" transform="translate(362.5,667.5) rotate(-45)" font-size="12.3" text-anchor="end" font-weight="normal" fill="#111"  style="">tPA</text>
<text x="0" y="0" transform="translate(394,667.5) rotate(-45)" font-size="12.3" text-anchor="end" font-weight="normal" fill="#111"  style="">tPA+Imatinib</text>
<text x="0" y="0" transform="translate(425,667.5) rotate(-45)" font-size="12.3" text-anchor="end" font-weight="normal" fill="#111" textLength="72.3" lengthAdjust="spacingAndGlyphs"  style="">tPA+Angptl4</text>
<text x="0" y="0" transform="translate(456.5,667.5) rotate(-45)" font-size="12.3" text-anchor="end" font-weight="normal" fill="#111"  style="">tPA+PKCβi</text>
<text x="0" y="0" transform="translate(488.5,667.5) rotate(-45)" font-size="12.3" text-anchor="end" font-weight="normal" fill="#111"  style="">tPA+VEGFR2i</text>
<text x="11.3" y="734" font-size="17.3" text-anchor="start" font-weight="bold" fill="#000"  style="">F</text>
<rect x="56.5" y="949.3" width="22.5" height="6.9" fill="#e08898" />
<rect x="85" y="897" width="22.5" height="59.2" fill="#85a8c4" />
<rect x="113.3" y="928.8" width="22.5" height="27.4" fill="#aa8fb8" />
<rect x="142" y="935.3" width="22.5" height="20.9" fill="#fdc780" />
<rect x="170.5" y="933.7" width="22.5" height="22.5" fill="#80b4a5" />
<rect x="199.2" y="946" width="22.5" height="10.2" fill="#c2bee0" />
<line x1="46.7" y1="750.5" x2="46.7" y2="957.05" stroke="#000" stroke-width="1.7" stroke-linecap="butt"/>
<line x1="42.3" y1="956.2" x2="46.7" y2="956.2" stroke="#000" stroke-width="1.2" stroke-linecap="butt"/>
<line x1="42.3" y1="905.8" x2="46.7" y2="905.8" stroke="#000" stroke-width="1.2" stroke-linecap="butt"/>
<line x1="42.3" y1="855.4" x2="46.7" y2="855.4" stroke="#000" stroke-width="1.2" stroke-linecap="butt"/>
<line x1="42.3" y1="805" x2="46.7" y2="805" stroke="#000" stroke-width="1.2" stroke-linecap="butt"/>
<line x1="42.3" y1="754.6" x2="46.7" y2="754.6" stroke="#000" stroke-width="1.2" stroke-linecap="butt"/>
<line x1="43.9" y1="931" x2="46.7" y2="931" stroke="#000" stroke-width="1.1" stroke-linecap="butt"/>
<line x1="43.9" y1="880.6" x2="46.7" y2="880.6" stroke="#000" stroke-width="1.1" stroke-linecap="butt"/>
<line x1="43.9" y1="830.2" x2="46.7" y2="830.2" stroke="#000" stroke-width="1.1" stroke-linecap="butt"/>
<line x1="43.9" y1="779.8" x2="46.7" y2="779.8" stroke="#000" stroke-width="1.1" stroke-linecap="butt"/>
<text x="37.6" y="960.5" font-size="12" text-anchor="end" font-weight="normal" fill="#111"  style="">0</text>
<text x="37.6" y="910.1" font-size="12" text-anchor="end" font-weight="normal" fill="#111"  style="">1</text>
<text x="37.6" y="859.7" font-size="12" text-anchor="end" font-weight="normal" fill="#111"  style="">2</text>
<text x="37.6" y="809.3" font-size="12" text-anchor="end" font-weight="normal" fill="#111"  style="">3</text>
<text x="37.6" y="758.9" font-size="12" text-anchor="end" font-weight="normal" fill="#111"  style="">4</text>
<line x1="45.95" y1="956.2" x2="231" y2="956.2" stroke="#000" stroke-width="1.6" stroke-linecap="butt"/>
<line x1="67.7" y1="956.2" x2="67.7" y2="961.4" stroke="#000" stroke-width="1.2" stroke-linecap="butt"/>
<line x1="95.7" y1="956.2" x2="95.7" y2="961.4" stroke="#000" stroke-width="1.2" stroke-linecap="butt"/>
<line x1="124.5" y1="956.2" x2="124.5" y2="961.4" stroke="#000" stroke-width="1.2" stroke-linecap="butt"/>
<line x1="153" y1="956.2" x2="153" y2="961.4" stroke="#000" stroke-width="1.2" stroke-linecap="butt"/>
<line x1="181.3" y1="956.2" x2="181.3" y2="961.4" stroke="#000" stroke-width="1.2" stroke-linecap="butt"/>
<line x1="210" y1="956.2" x2="210" y2="961.4" stroke="#000" stroke-width="1.2" stroke-linecap="butt"/>
<line x1="95.6" y1="886.2" x2="95.6" y2="909" stroke="#000" stroke-width="1.3" stroke-linecap="butt"/>
<line x1="89.1" y1="886.2" x2="102.1" y2="886.2" stroke="#000" stroke-width="1.3" stroke-linecap="butt"/>
<line x1="89.1" y1="909" x2="102.1" y2="909" stroke="#000" stroke-width="1.3" stroke-linecap="butt"/>
<line x1="124.4" y1="922.5" x2="124.4" y2="934.5" stroke="#000" stroke-width="1.3" stroke-linecap="butt"/>
<line x1="118.05" y1="922.5" x2="130.75" y2="922.5" stroke="#000" stroke-width="1.3" stroke-linecap="butt"/>
<line x1="118.05" y1="934.5" x2="130.75" y2="934.5" stroke="#000" stroke-width="1.3" stroke-linecap="butt"/>
<line x1="153.3" y1="931.2" x2="153.3" y2="936.5" stroke="#000" stroke-width="1.3" stroke-linecap="butt"/>
<line x1="147.3" y1="931.2" x2="159.3" y2="931.2" stroke="#000" stroke-width="1.3" stroke-linecap="butt"/>
<line x1="147.3" y1="936.5" x2="159.3" y2="936.5" stroke="#000" stroke-width="1.3" stroke-linecap="butt"/>
<line x1="181.8" y1="928.7" x2="181.8" y2="937.5" stroke="#000" stroke-width="1.3" stroke-linecap="butt"/>
<line x1="175.65" y1="928.7" x2="187.95" y2="928.7" stroke="#000" stroke-width="1.3" stroke-linecap="butt"/>
<line x1="175.65" y1="937.5" x2="187.95" y2="937.5" stroke="#000" stroke-width="1.3" stroke-linecap="butt"/>
<line x1="210" y1="942.5" x2="210" y2="945.8" stroke="#000" stroke-width="1.2" stroke-linecap="butt"/>
<line x1="203.75" y1="942.5" x2="216.25" y2="942.5" stroke="#000" stroke-width="1.2" stroke-linecap="butt"/>
<line x1="203.75" y1="945.8" x2="216.25" y2="945.8" stroke="#000" stroke-width="1.2" stroke-linecap="butt"/>
<circle cx="68.9" cy="936.7" r="2" fill="#fff" stroke="#d0284a" stroke-width="1.15"/>
<circle cx="64.2" cy="940.5" r="2" fill="#fff" stroke="#d0284a" stroke-width="1.15"/>
<circle cx="69.8" cy="941" r="2" fill="#fff" stroke="#d0284a" stroke-width="1.15"/>
<circle cx="62.1" cy="944.5" r="2" fill="#fff" stroke="#d0284a" stroke-width="1.15"/>
<circle cx="66.8" cy="945" r="2" fill="#fff" stroke="#d0284a" stroke-width="1.15"/>
<circle cx="72" cy="945" r="2" fill="#fff" stroke="#d0284a" stroke-width="1.15"/>
<circle cx="59.4" cy="947" r="2" fill="#fff" stroke="#d0284a" stroke-width="1.15"/>
<circle cx="64.2" cy="948" r="2" fill="#fff" stroke="#d0284a" stroke-width="1.15"/>
<circle cx="69.4" cy="948.5" r="2" fill="#fff" stroke="#d0284a" stroke-width="1.15"/>
<circle cx="73.7" cy="948" r="2" fill="#fff" stroke="#d0284a" stroke-width="1.15"/>
<circle cx="57" cy="950.5" r="2" fill="#fff" stroke="#d0284a" stroke-width="1.15"/>
<circle cx="61.6" cy="950.5" r="2" fill="#fff" stroke="#d0284a" stroke-width="1.15"/>
<circle cx="66" cy="950.2" r="2" fill="#fff" stroke="#d0284a" stroke-width="1.15"/>
<circle cx="71.1" cy="951" r="2" fill="#fff" stroke="#d0284a" stroke-width="1.15"/>
<circle cx="76.9" cy="950.5" r="2" fill="#fff" stroke="#d0284a" stroke-width="1.15"/>
<circle cx="59.4" cy="952.6" r="2" fill="#fff" stroke="#d0284a" stroke-width="1.15"/>
<circle cx="64.2" cy="952.6" r="2" fill="#fff" stroke="#d0284a" stroke-width="1.15"/>
<circle cx="68.5" cy="953.7" r="2" fill="#fff" stroke="#d0284a" stroke-width="1.15"/>
<circle cx="73.7" cy="952.6" r="2" fill="#fff" stroke="#d0284a" stroke-width="1.15"/>
<circle cx="95.5" cy="790.7" r="2.1" fill="#1f5a96"/>
<circle cx="95.5" cy="800" r="2.1" fill="#1f5a96"/>
<circle cx="95.5" cy="834.5" r="2.1" fill="#1f5a96"/>
<circle cx="95.5" cy="843" r="2.1" fill="#1f5a96"/>
<circle cx="95.5" cy="853.2" r="2.1" fill="#1f5a96"/>
<circle cx="97.5" cy="882" r="2.1" fill="#1f5a96"/>
<circle cx="94.5" cy="883.7" r="2.1" fill="#1f5a96"/>
<circle cx="95.4" cy="906" r="2.1" fill="#1f5a96"/>
<circle cx="95.9" cy="916.8" r="2.1" fill="#1f5a96"/>
<circle cx="94.2" cy="922.9" r="2.1" fill="#1f5a96"/>
<circle cx="90.5" cy="928" r="2.1" fill="#1f5a96"/>
<circle cx="100.9" cy="927.2" r="2.1" fill="#1f5a96"/>
<circle cx="86.7" cy="932" r="2.1" fill="#1f5a96"/>
<circle cx="94.2" cy="933.2" r="2.1" fill="#1f5a96"/>
<circle cx="90.5" cy="935.3" r="2.1" fill="#1f5a96"/>
<circle cx="97.4" cy="936.4" r="2.1" fill="#1f5a96"/>
<circle cx="101.4" cy="935.3" r="2.1" fill="#1f5a96"/>
<circle cx="105.4" cy="935.5" r="2.1" fill="#1f5a96"/>
<circle cx="95.7" cy="944.5" r="2.1" fill="#1f5a96"/>
<rect x="122.05" y="903.55" width="4.3" height="4.3" fill="#5c1f78" />
<rect x="122.05" y="911.55" width="4.3" height="4.3" fill="#5c1f78" />
<rect x="113.55" y="931.05" width="4.3" height="4.3" fill="#5c1f78" />
<rect x="130.35" y="932.05" width="4.3" height="4.3" fill="#5c1f78" />
<rect x="122.05" y="935.85" width="4.3" height="4.3" fill="#5c1f78" />
<rect x="122.05" y="944.55" width="4.3" height="4.3" fill="#5c1f78" />
<polygon points="153.2,918.53 150.71,923.01 155.69,923.01" fill="#f7931e"/>
<polygon points="145,924.83 142.51,929.31 147.49,929.31" fill="#f7931e"/>
<polygon points="149.5,929.83 147.01,934.31 151.99,934.31" fill="#f7931e"/>
<polygon points="157.5,929.33 155.01,933.81 159.99,933.81" fill="#f7931e"/>
<polygon points="145,932.83 142.51,937.31 147.49,937.31" fill="#f7931e"/>
<polygon points="162.5,932.83 160.01,937.31 164.99,937.31" fill="#f7931e"/>
<polygon points="149.5,937.33 147.01,941.81 151.99,941.81" fill="#f7931e"/>
<polygon points="157.5,936.83 155.01,941.31 159.99,941.31" fill="#f7931e"/>
<polygon points="153.2,946.83 150.71,951.31 155.69,951.31" fill="#f7931e"/>
<polygon points="172.5,919.9 175.6,923 172.5,926.1 169.4,923" fill="#0b6b4f"/>
<polygon points="190.5,922.4 193.6,925.5 190.5,928.6 187.4,925.5" fill="#0b6b4f"/>
<polygon points="172.5,928.1 175.6,931.2 172.5,934.3 169.4,931.2" fill="#0b6b4f"/>
<polygon points="190.5,932.4 193.6,935.5 190.5,938.6 187.4,935.5" fill="#0b6b4f"/>
<polygon points="181.2,945.1 184.3,948.2 181.2,951.3 178.1,948.2" fill="#0b6b4f"/>
<circle cx="205.7" cy="940.7" r="2.1" fill="#8d86cb"/>
<circle cx="213.7" cy="940.7" r="2.1" fill="#8d86cb"/>
<circle cx="201.2" cy="947" r="2.1" fill="#8d86cb"/>
<circle cx="210" cy="947" r="2.1" fill="#8d86cb"/>
<circle cx="219.2" cy="947" r="2.1" fill="#8d86cb"/>
<line x1="60.7" y1="775.2" x2="86.7" y2="775.2" stroke="#000" stroke-width="1.4" stroke-linecap="butt"/>
<polygon points="65.9,766.8 66.58,768.77 68.66,768.8 66.99,770.06 67.6,772.05 65.9,770.85 64.2,772.05 64.81,770.06 63.14,768.8 65.22,768.77" fill="#000"/>
<polygon points="71.1,766.8 71.78,768.77 73.86,768.8 72.19,770.06 72.8,772.05 71.1,770.85 69.4,772.05 70.01,770.06 68.34,768.8 70.42,768.77" fill="#000"/>
<polygon points="76.3,766.8 76.98,768.77 79.06,768.8 77.39,770.06 78,772.05 76.3,770.85 74.6,772.05 75.21,770.06 73.54,768.8 75.62,768.77" fill="#000"/>
<polygon points="81.5,766.8 82.18,768.77 84.26,768.8 82.59,770.06 83.2,772.05 81.5,770.85 79.8,772.05 80.41,770.06 78.74,768.8 80.82,768.77" fill="#000"/>
<line x1="104.1" y1="775.2" x2="209.9" y2="775.2" stroke="#000" stroke-width="1.4" stroke-linecap="butt"/>
<polygon points="154.4,766.8 155.08,768.77 157.16,768.8 155.49,770.06 156.1,772.05 154.4,770.85 152.7,772.05 153.31,770.06 151.64,768.8 153.72,768.77" fill="#000"/>
<polygon points="159.6,766.8 160.28,768.77 162.36,768.8 160.69,770.06 161.3,772.05 159.6,770.85 157.9,772.05 158.51,770.06 156.84,768.8 158.92,768.77" fill="#000"/>
<line x1="104.1" y1="795.2" x2="180.8" y2="795.2" stroke="#000" stroke-width="1.4" stroke-linecap="butt"/>
<polygon points="142.5,786.8 143.18,788.77 145.26,788.8 143.59,790.06 144.2,792.05 142.5,790.85 140.8,792.05 141.41,790.06 139.74,788.8 141.82,788.77" fill="#000"/>
<line x1="104.1" y1="815" x2="153" y2="815" stroke="#000" stroke-width="1.4" stroke-linecap="butt"/>
<polygon points="126.2,806.6 126.88,808.57 128.96,808.6 127.29,809.86 127.9,811.85 126.2,810.65 124.5,811.85 125.11,809.86 123.44,808.6 125.52,808.57" fill="#000"/>
<polygon points="131.4,806.6 132.08,808.57 134.16,808.6 132.49,809.86 133.1,811.85 131.4,810.65 129.7,811.85 130.31,809.86 128.64,808.6 130.72,808.57" fill="#000"/>
<line x1="104.1" y1="835.6" x2="124.8" y2="835.6" stroke="#000" stroke-width="1.4" stroke-linecap="butt"/>
<polygon points="114.3,827.2 114.98,829.17 117.06,829.2 115.39,830.46 116,832.45 114.3,831.25 112.6,832.45 113.21,830.46 111.54,829.2 113.62,829.17" fill="#000"/>
<text x="0" y="0" transform="translate(20.9,912.4) rotate(-90)" font-size="13.6" text-anchor="start" font-weight="normal" fill="#111" textLength="74.2" lengthAdjust="spacingAndGlyphs"  style="">Evans blue (OD</text>
<text x="0" y="0" transform="translate(24.5,837.6) rotate(-90)" font-size="10.6" text-anchor="start" font-weight="normal" fill="#111" textLength="28.3" lengthAdjust="spacingAndGlyphs"  style="">620nm</text>
<text x="0" y="0" transform="translate(20.9,808.6) rotate(-90)" font-size="13.6" text-anchor="start" font-weight="normal" fill="#111" textLength="14.2" lengthAdjust="spacingAndGlyphs"  style="">/g)</text>
<text x="0" y="0" transform="translate(70.5,971) rotate(-45)" font-size="12.3" text-anchor="end" font-weight="normal" fill="#111"  style="">Veh</text>
<text x="0" y="0" transform="translate(99.5,971) rotate(-45)" font-size="12.3" text-anchor="end" font-weight="normal" fill="#111"  style="">tPA</text>
<text x="0" y="0" transform="translate(128.5,971) rotate(-45)" font-size="12.3" text-anchor="end" font-weight="normal" fill="#111"  style="">tPA+Imatinib</text>
<text x="0" y="0" transform="translate(156.5,971) rotate(-45)" font-size="12.3" text-anchor="end" font-weight="normal" fill="#111" textLength="72.3" lengthAdjust="spacingAndGlyphs"  style="">tPA+Angptl4</text>
<text x="0" y="0" transform="translate(185.5,971) rotate(-45)" font-size="12.3" text-anchor="end" font-weight="normal" fill="#111"  style="">tPA+PKCβi</text>
<text x="0" y="0" transform="translate(214,971) rotate(-45)" font-size="12.3" text-anchor="end" font-weight="normal" fill="#111"  style="">tPA+VEGFR2i</text>
<text x="266" y="734" font-size="17.3" text-anchor="start" font-weight="bold" fill="#000"  style="">G</text>
<rect x="314.8" y="942.5" width="33.6" height="13.8" fill="#e08898" />
<rect x="366" y="863.8" width="33.6" height="92.5" fill="#e08898" />
<rect x="416.9" y="944.7" width="33.6" height="11.6" fill="#85a8c4" />
<rect x="468.3" y="935" width="33.6" height="21.3" fill="#85a8c4" />
<line x1="306.7" y1="751.3" x2="306.7" y2="957.15" stroke="#000" stroke-width="1.7" stroke-linecap="butt"/>
<line x1="301.7" y1="956.3" x2="306.7" y2="956.3" stroke="#000" stroke-width="1.2" stroke-linecap="butt"/>
<line x1="301.7" y1="889.45" x2="306.7" y2="889.45" stroke="#000" stroke-width="1.2" stroke-linecap="butt"/>
<line x1="301.7" y1="822.6" x2="306.7" y2="822.6" stroke="#000" stroke-width="1.2" stroke-linecap="butt"/>
<line x1="301.7" y1="755.75" x2="306.7" y2="755.75" stroke="#000" stroke-width="1.2" stroke-linecap="butt"/>
<line x1="303.7" y1="922.88" x2="306.7" y2="922.88" stroke="#000" stroke-width="1.1" stroke-linecap="butt"/>
<line x1="303.7" y1="856.02" x2="306.7" y2="856.02" stroke="#000" stroke-width="1.1" stroke-linecap="butt"/>
<line x1="303.7" y1="789.17" x2="306.7" y2="789.17" stroke="#000" stroke-width="1.1" stroke-linecap="butt"/>
<text x="297.4" y="960.6" font-size="12" text-anchor="end" font-weight="normal" fill="#111"  style="">0</text>
<text x="297.4" y="893.75" font-size="12" text-anchor="end" font-weight="normal" fill="#111"  style="">1</text>
<text x="297.4" y="826.9" font-size="12" text-anchor="end" font-weight="normal" fill="#111"  style="">2</text>
<text x="297.4" y="760.05" font-size="12" text-anchor="end" font-weight="normal" fill="#111"  style="">3</text>
<line x1="305.95" y1="956.3" x2="510" y2="956.3" stroke="#000" stroke-width="1.6" stroke-linecap="butt"/>
<line x1="331.7" y1="956.3" x2="331.7" y2="961.5" stroke="#000" stroke-width="1.2" stroke-linecap="butt"/>
<line x1="382.8" y1="956.3" x2="382.8" y2="961.5" stroke="#000" stroke-width="1.2" stroke-linecap="butt"/>
<line x1="433.9" y1="956.3" x2="433.9" y2="961.5" stroke="#000" stroke-width="1.2" stroke-linecap="butt"/>
<line x1="485" y1="956.3" x2="485" y2="961.5" stroke="#000" stroke-width="1.2" stroke-linecap="butt"/>
<line x1="331.7" y1="939.2" x2="331.7" y2="945.4" stroke="#000" stroke-width="1.3" stroke-linecap="butt"/>
<line x1="325.45" y1="939.2" x2="337.95" y2="939.2" stroke="#000" stroke-width="1.3" stroke-linecap="butt"/>
<line x1="325.45" y1="945.4" x2="337.95" y2="945.4" stroke="#000" stroke-width="1.3" stroke-linecap="butt"/>
<line x1="382.9" y1="838.3" x2="382.9" y2="888.9" stroke="#000" stroke-width="1.3" stroke-linecap="butt"/>
<line x1="376.2" y1="838.3" x2="389.6" y2="838.3" stroke="#000" stroke-width="1.3" stroke-linecap="butt"/>
<line x1="376.2" y1="888.9" x2="389.6" y2="888.9" stroke="#000" stroke-width="1.3" stroke-linecap="butt"/>
<line x1="433.9" y1="941.5" x2="433.9" y2="947.7" stroke="#000" stroke-width="1.3" stroke-linecap="butt"/>
<line x1="427.4" y1="941.5" x2="440.4" y2="941.5" stroke="#000" stroke-width="1.3" stroke-linecap="butt"/>
<line x1="427.4" y1="947.7" x2="440.4" y2="947.7" stroke="#000" stroke-width="1.3" stroke-linecap="butt"/>
<line x1="485" y1="931.2" x2="485" y2="936.9" stroke="#000" stroke-width="1.3" stroke-linecap="butt"/>
<line x1="478.5" y1="931.2" x2="491.5" y2="931.2" stroke="#000" stroke-width="1.3" stroke-linecap="butt"/>
<line x1="478.5" y1="936.9" x2="491.5" y2="936.9" stroke="#000" stroke-width="1.3" stroke-linecap="butt"/>
<circle cx="331.7" cy="936.6" r="2.1" fill="#fff" stroke="#d0284a" stroke-width="1.2"/>
<circle cx="338" cy="942.7" r="2.1" fill="#fff" stroke="#d0284a" stroke-width="1.2"/>
<circle cx="325.5" cy="947.3" r="2.1" fill="#fff" stroke="#d0284a" stroke-width="1.2"/>
<circle cx="382.9" cy="805.7" r="2.2" fill="#c8102e"/>
<circle cx="376.7" cy="858.5" r="2.2" fill="#c8102e"/>
<circle cx="388.8" cy="860.6" r="2.2" fill="#c8102e"/>
<circle cx="382.9" cy="930.6" r="2.2" fill="#c8102e"/>
<circle cx="434.4" cy="931.2" r="2.1" fill="#fff" stroke="#1f5a96" stroke-width="1.2"/>
<circle cx="429.8" cy="944.4" r="2.1" fill="#fff" stroke="#1f5a96" stroke-width="1.2"/>
<circle cx="419.8" cy="950.1" r="2.1" fill="#fff" stroke="#1f5a96" stroke-width="1.2"/>
<circle cx="438.7" cy="947.9" r="2.1" fill="#fff" stroke="#1f5a96" stroke-width="1.2"/>
<circle cx="448.9" cy="947.1" r="2.1" fill="#fff" stroke="#1f5a96" stroke-width="1.2"/>
<circle cx="486.1" cy="917.5" r="2.2" fill="#1f5a96"/>
<circle cx="471.8" cy="929.1" r="2.2" fill="#1f5a96"/>
<circle cx="471.8" cy="935" r="2.2" fill="#1f5a96"/>
<circle cx="490.9" cy="932.3" r="2.2" fill="#1f5a96"/>
<circle cx="481" cy="936.9" r="2.2" fill="#1f5a96"/>
<circle cx="500.4" cy="938.2" r="2.2" fill="#1f5a96"/>
<circle cx="490.9" cy="939.9" r="2.2" fill="#1f5a96"/>
<circle cx="471.8" cy="941.2" r="2.2" fill="#1f5a96"/>
<line x1="333.9" y1="787.6" x2="378" y2="787.6" stroke="#000" stroke-width="1.4" stroke-linecap="butt"/>
<polygon points="346.8,779.2 347.48,781.17 349.56,781.2 347.89,782.46 348.5,784.45 346.8,783.25 345.1,784.45 345.71,782.46 344.04,781.2 346.12,781.17" fill="#000"/>
<polygon points="352,779.2 352.68,781.17 354.76,781.2 353.09,782.46 353.7,784.45 352,783.25 350.3,784.45 350.91,782.46 349.24,781.2 351.32,781.17" fill="#000"/>
<line x1="387.2" y1="787.6" x2="484.5" y2="787.6" stroke="#000" stroke-width="1.4" stroke-linecap="butt"/>
<polygon points="430.8,779.2 431.48,781.17 433.56,781.2 431.89,782.46 432.5,784.45 430.8,783.25 429.1,784.45 429.71,782.46 428.04,781.2 430.12,781.17" fill="#000"/>
<polygon points="436,779.2 436.68,781.17 438.76,781.2 437.09,782.46 437.7,784.45 436,783.25 434.3,784.45 434.91,782.46 433.24,781.2 435.32,781.17" fill="#000"/>
<polygon points="441.2,779.2 441.88,781.17 443.96,781.2 442.29,782.46 442.9,784.45 441.2,783.25 439.5,784.45 440.11,782.46 438.44,781.2 440.52,781.17" fill="#000"/>
<line x1="433.9" y1="831.9" x2="483.7" y2="831.9" stroke="#000" stroke-width="1.4" stroke-linecap="butt"/>
<text x="458.6" y="826.8" font-size="11.5" text-anchor="middle" font-weight="normal" fill="#111"  style="">ns</text>
<text x="0" y="0" transform="translate(280.4,913.7) rotate(-90)" font-size="13.6" text-anchor="start" font-weight="normal" fill="#111" textLength="74.2" lengthAdjust="spacingAndGlyphs"  style="">Evans blue (OD</text>
<text x="0" y="0" transform="translate(284,838.9) rotate(-90)" font-size="10.6" text-anchor="start" font-weight="normal" fill="#111" textLength="28.3" lengthAdjust="spacingAndGlyphs"  style="">620nm</text>
<text x="0" y="0" transform="translate(280.4,809.9) rotate(-90)" font-size="13.6" text-anchor="start" font-weight="normal" fill="#111" textLength="14.2" lengthAdjust="spacingAndGlyphs"  style="">/g)</text>
<text x="257.2" y="979.5" font-size="12" text-anchor="start" font-weight="normal" fill="#111" textLength="49" lengthAdjust="spacingAndGlyphs"  style="">S490A<tspan font-size="8.8" dy="-4">+/+</tspan></text>
<text x="306.3" y="995.4" font-size="12" text-anchor="end" font-weight="normal" fill="#111"  style="">tPA</text>
<line x1="328.7" y1="974.3" x2="334.7" y2="974.3" stroke="#000" stroke-width="1.1" stroke-linecap="butt"/>
<line x1="328.7" y1="992.6" x2="334.7" y2="992.6" stroke="#000" stroke-width="1.1" stroke-linecap="butt"/>
<line x1="379.8" y1="974.3" x2="385.8" y2="974.3" stroke="#000" stroke-width="1.1" stroke-linecap="butt"/>
<line x1="379.8" y1="992.6" x2="385.8" y2="992.6" stroke="#000" stroke-width="1.1" stroke-linecap="butt"/>
<line x1="382.8" y1="989.6" x2="382.8" y2="995.6" stroke="#000" stroke-width="1.1" stroke-linecap="butt"/>
<line x1="430.9" y1="974.3" x2="436.9" y2="974.3" stroke="#000" stroke-width="1.1" stroke-linecap="butt"/>
<line x1="433.9" y1="971.3" x2="433.9" y2="977.3" stroke="#000" stroke-width="1.1" stroke-linecap="butt"/>
<line x1="430.9" y1="992.6" x2="436.9" y2="992.6" stroke="#000" stroke-width="1.1" stroke-linecap="butt"/>
<line x1="482" y1="974.3" x2="488" y2="974.3" stroke="#000" stroke-width="1.1" stroke-linecap="butt"/>
<line x1="485" y1="971.3" x2="485" y2="977.3" stroke="#000" stroke-width="1.1" stroke-linecap="butt"/>
<line x1="482" y1="992.6" x2="488" y2="992.6" stroke="#000" stroke-width="1.1" stroke-linecap="butt"/>
<line x1="485" y1="989.6" x2="485" y2="995.6" stroke="#000" stroke-width="1.1" stroke-linecap="butt"/>
<rect x="0" y="0" width="2" height="1033" fill="#000" />
<rect x="0" y="0" width="520" height="1.7" fill="#000" />
<rect x="518.5" y="0" width="1.5" height="1033" fill="#000" />
<rect x="0" y="1031.2" width="520" height="1.8" fill="#000" />
</svg></body></html>
